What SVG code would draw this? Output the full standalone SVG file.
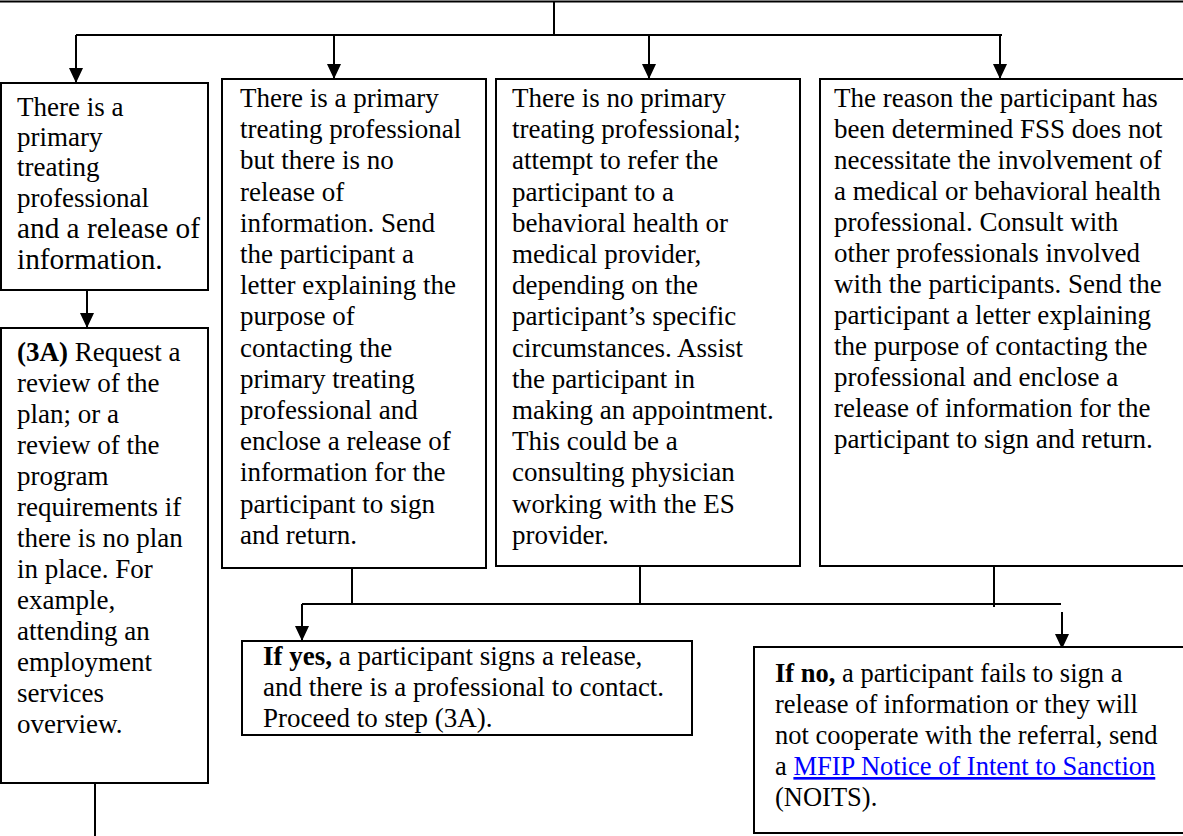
<svg xmlns="http://www.w3.org/2000/svg" width="1183" height="836" viewBox="0 0 1183 836">
<style>
.t{font-family:"Liberation Serif","Times New Roman",serif;font-size:27px;fill:#000}
.big{font-size:29.3px}
.sm{font-size:26.5px}
.b{font-weight:bold}
.box{fill:#fff;stroke:#000;stroke-width:2}
.ln{stroke:#000;stroke-width:2;fill:none}
.lk{fill:#0000FF;text-decoration:underline}
</style>
<defs>
<marker id="ah" markerUnits="userSpaceOnUse" markerWidth="16" markerHeight="14" refX="15" refY="7" orient="auto">
<path d="M0,0 L15,7 L0,14 z" fill="#000"/>
</marker>
</defs>
<rect width="1183" height="836" fill="#fff"/>
<g id="connectors">
<path class="ln" d="M0,1.5 H1183" stroke-width="2.5"/>
<path class="ln" d="M554,1.5 V35"/>
<path class="ln" d="M76,35 H1002"/>
<path class="ln" d="M76,35 V83" marker-end="url(#ah)"/>
<path class="ln" d="M334,35 V79" marker-end="url(#ah)"/>
<path class="ln" d="M649,35 V79" marker-end="url(#ah)"/>
<path class="ln" d="M1000,35 V79" marker-end="url(#ah)"/>
<path class="ln" d="M87,290 V328" marker-end="url(#ah)"/>
<path class="ln" d="M95,783 V836"/>
<path class="ln" d="M352,568 V604"/>
<path class="ln" d="M640,566 V604"/>
<path class="ln" d="M994,566 V607"/>
<path class="ln" d="M302,604 H1061"/>
<path class="ln" d="M302,604 V641" marker-end="url(#ah)"/>
<path class="ln" d="M1062,612 V649" marker-end="url(#ah)"/>
</g>
<g id="box1">
<rect class="box" x="1" y="83" width="207" height="207"/>
<text class="t"><tspan x="17" y="116">There is a</tspan><tspan x="17" y="146">primary</tspan><tspan x="17" y="176">treating</tspan><tspan x="17" y="207">professional</tspan><tspan class="big" x="17" y="238">and a release of</tspan><tspan class="big" x="17" y="269">information.</tspan></text>
</g>
<g id="box3a">
<rect class="box" x="1" y="328" width="207" height="455"/>
<text class="t"><tspan x="17" y="361"><tspan class="b">(3A)</tspan> Request a</tspan><tspan x="17" y="392">review of the</tspan><tspan x="17" y="423">plan; or a</tspan><tspan x="17" y="454">review of the</tspan><tspan x="17" y="485">program</tspan><tspan x="17" y="516">requirements if</tspan><tspan x="17" y="547">there is no plan</tspan><tspan x="17" y="578">in place. For</tspan><tspan x="17" y="609">example,</tspan><tspan x="17" y="640">attending an</tspan><tspan x="17" y="671">employment</tspan><tspan x="17" y="702">services</tspan><tspan x="17" y="733">overview.</tspan></text>
</g>
<g id="box2">
<rect class="box" x="222" y="79" width="264" height="489"/>
<text class="t"><tspan x="240" y="107">There is a primary</tspan><tspan x="240" y="138">treating professional</tspan><tspan x="240" y="169">but there is no</tspan><tspan x="240" y="201">release of</tspan><tspan x="240" y="232">information. Send</tspan><tspan x="240" y="263">the participant a</tspan><tspan x="240" y="294">letter explaining the</tspan><tspan x="240" y="325">purpose of</tspan><tspan x="240" y="357">contacting the</tspan><tspan x="240" y="388">primary treating</tspan><tspan x="240" y="419">professional and</tspan><tspan x="240" y="450">enclose a release of</tspan><tspan x="240" y="481">information for the</tspan><tspan x="240" y="513">participant to sign</tspan><tspan x="240" y="544">and return.</tspan></text>
</g>
<g id="box3">
<rect class="box" x="496" y="79" width="304" height="487"/>
<text class="t"><tspan x="512" y="107">There is no primary</tspan><tspan x="512" y="138">treating professional;</tspan><tspan x="512" y="169">attempt to refer the</tspan><tspan x="512" y="201">participant to a</tspan><tspan x="512" y="232">behavioral health or</tspan><tspan x="512" y="263">medical provider,</tspan><tspan x="512" y="294">depending on the</tspan><tspan x="512" y="325">participant’s specific</tspan><tspan x="512" y="357">circumstances. Assist</tspan><tspan x="512" y="388">the participant in</tspan><tspan x="512" y="419">making an appointment.</tspan><tspan x="512" y="450">This could be a</tspan><tspan x="512" y="481">consulting physician</tspan><tspan x="512" y="513">working with the ES</tspan><tspan x="512" y="544">provider.</tspan></text>
</g>
<g id="box4">
<rect class="box" x="820" y="79" width="370" height="487"/>
<text class="t"><tspan x="834" y="107">The reason the participant has</tspan><tspan x="834" y="138">been determined FSS does not</tspan><tspan x="834" y="169">necessitate the involvement of</tspan><tspan x="834" y="200">a medical or behavioral health</tspan><tspan x="834" y="231">professional. Consult with</tspan><tspan x="834" y="262">other professionals involved</tspan><tspan x="834" y="293">with the participants. Send the</tspan><tspan x="834" y="324">participant a letter explaining</tspan><tspan x="834" y="355">the purpose of contacting the</tspan><tspan x="834" y="386">professional and enclose a</tspan><tspan x="834" y="417">release of information for the</tspan><tspan x="834" y="448">participant to sign and return.</tspan></text>
</g>
<g id="boxyes">
<rect class="box" x="242" y="641" width="450" height="94"/>
<text class="t"><tspan x="263" y="665"><tspan class="b">If yes,</tspan> a participant signs a release,</tspan><tspan x="263" y="696">and there is a professional to contact.</tspan><tspan x="263" y="727">Proceed to step (3A).</tspan></text>
</g>
<g id="boxno">
<rect class="box" x="754" y="647" width="440" height="186"/>
<text class="t sm"><tspan x="775" y="682"><tspan class="b">If no,</tspan> a participant fails to sign a</tspan><tspan x="775" y="713">release of information or they will</tspan><tspan x="775" y="744">not cooperate with the referral, send</tspan><tspan x="775" y="775">a <tspan class="lk">MFIP Notice of Intent to Sanction</tspan></tspan><tspan x="775" y="806">(NOITS).</tspan></text>
</g>
</svg>
